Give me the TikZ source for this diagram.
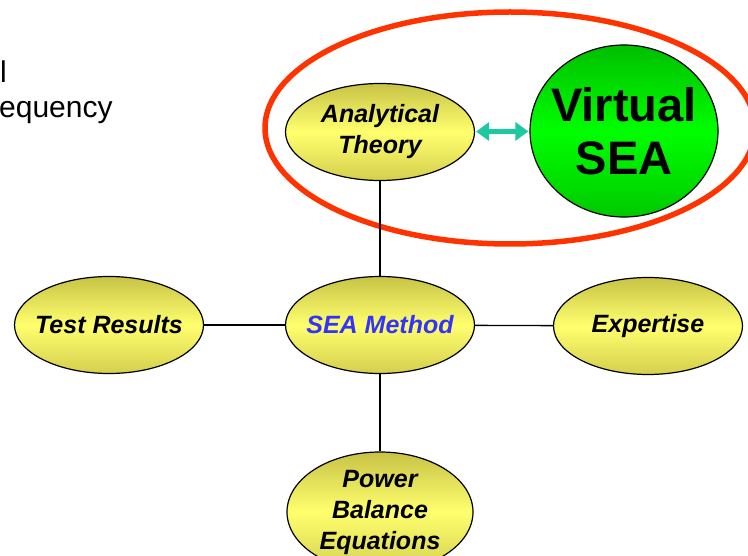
\documentclass[tikz,border=0pt]{standalone}
\usepackage{fontspec}
\setmainfont{Liberation Sans}
\usetikzlibrary{shapes.geometric,arrows.meta}
\definecolor{bubbletop}{RGB}{200,195,70}
\definecolor{bubblemid}{RGB}{255,255,110}
\definecolor{bubblebot}{RGB}{212,207,78}
\definecolor{greentop}{RGB}{0,190,0}
\definecolor{greenmid}{RGB}{0,255,0}
\definecolor{greenbot}{RGB}{0,200,0}
\definecolor{ringred}{RGB}{255,51,0}
\definecolor{linkteal}{RGB}{30,200,160}
\definecolor{methodblue}{RGB}{51,51,255}
\begin{document}
\begin{tikzpicture}[x=1pt,y=-1pt,
  bubble/.style={draw,line width=1.2pt,ellipse,minimum width=189pt,minimum height=97pt,
    inner sep=-30pt,align=center,top color=bubbletop,bottom color=bubblebot,middle color=bubblemid,
    font=\fontsize{25}{31}\selectfont\bfseries\itshape},
  bigbubble/.style={draw,line width=1.2pt,ellipse,minimum width=188pt,minimum height=172pt,
    inner sep=-30pt,align=center,top color=greentop,bottom color=greenbot,middle color=greenmid,
    font=\fontsize{47}{53}\selectfont\bfseries},
  spoke/.style={line width=1.3pt},
  twoway/.style={linkteal,line width=5pt,{Triangle[width=18pt,length=13pt]}-{Triangle[width=18pt,length=13pt]},shorten <=1pt,shorten >=1pt},
  cut/.style={anchor=base west,inner sep=0pt,font=\fontsize{30}{35}\selectfont}]
\useasboundingbox (0,0) rectangle (748,556);

% text running in from the left
\node[cut] (frag1) at (0,83) {l};
\node[cut] (frag2) at (-1,118) {equency};

% ring round the theory part
\draw[ringred,line width=5.5pt] (510,128) ellipse (245 and 116);

% bubbles
\node[bubble] (theory) at (380,132) {Analytical\\Theory};
\node[bigbubble] (virtual) at (624,131) {Virtual\\SEA};
\node[bubble] (method) at (380,325) {\textcolor{methodblue}{SEA Method}};
\node[bubble] (tests) at (109,325) {Test Results};
\node[bubble] (expert) at (648,326) {Expertise};
\node[bubble,minimum width=186pt,minimum height=120pt] (power) at (380,512) {Power\\Balance\\Equations};

% connectors
\draw[spoke] (theory) -- (method);
\draw[spoke] (tests) -- (method);
\draw[spoke] (method) -- (expert);
\draw[spoke] (method) -- (power);
\draw[twoway] (theory) -- (virtual);
\end{tikzpicture}
\end{document}
